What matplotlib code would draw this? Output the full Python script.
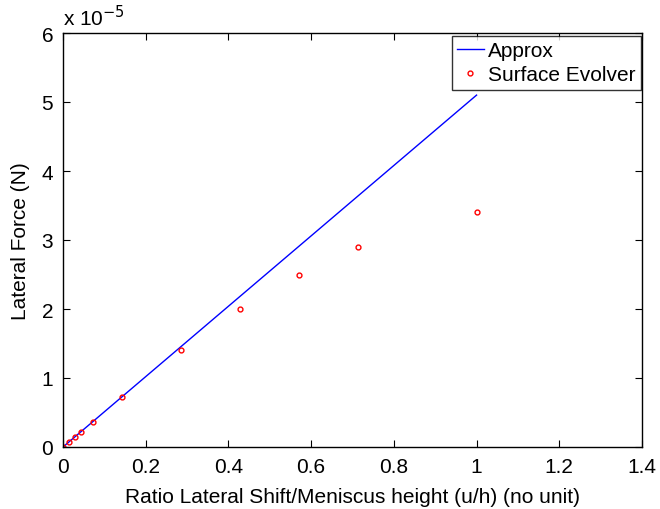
import numpy as np
import matplotlib.pyplot as plt

plt.rcParams['font.family'] = ['Liberation Sans', 'DejaVu Sans']

# ratio u/h
ratio = [0.0, 0.0143, 0.0286, 0.0429, 0.0714, 0.1429, 0.2857, 0.4286, 0.5714, 0.7143, 1.0]
# Surface Evolver lateral force (x 1e-5 N)
force_se = [0.0, 0.072, 0.145, 0.217, 0.36, 0.72, 1.40, 2.00, 2.50, 2.90, 3.40]
# approximation (x 1e-5 N)
force_approx = [0.0, 0.073, 0.146, 0.219, 0.364, 0.729, 1.457, 2.186, 2.914, 3.643, 5.10]

scale = 1e-5
fs = 15

fig = plt.figure(figsize=(6.6, 5.1), dpi=100)
ax = fig.add_axes([63/660, 62/510, 579/660, 414/510])

ax.plot(ratio, np.array(force_approx)*scale, color='blue', lw=1, label='Approx')
ax.plot(ratio, np.array(force_se)*scale, 'o', mfc='none', mec='red', ms=3.5, mew=1,
        ls='none', label='Surface Evolver')

ax.set_xlim(0, 1.4)
ax.set_ylim(0, 6e-5)
ax.set_xticks(np.arange(0, 1.41, 0.2))
ax.set_xticklabels(['0', '0.2', '0.4', '0.6', '0.8', '1', '1.2', '1.4'])
ax.set_yticks(np.arange(0, 7)*scale)
ax.set_yticklabels([str(i) for i in range(7)])
ax.tick_params(direction='in', top=True, right=True, labelsize=fs, length=5, pad=7)
ax.text(0.0, 1.008, r'x 10$^{-5}$', transform=ax.transAxes, fontsize=fs,
        ha='left', va='bottom')
ax.set_xlabel('Ratio Lateral Shift/Meniscus height (u/h) (no unit)', fontsize=fs, labelpad=8)
ax.set_ylabel('Lateral Force (N)', fontsize=fs, labelpad=8)
for s in ax.spines.values():
    s.set_linewidth(1)

leg = ax.legend(loc='upper right', bbox_to_anchor=(0.998, 0.993), fontsize=fs,
                frameon=True, fancybox=False, edgecolor='black', handlelength=1.3,
                handletextpad=0.2, borderaxespad=0.0, borderpad=0.25, labelspacing=0.25)
leg.get_frame().set_linewidth(1)

fig.savefig('out.png', dpi=100)
